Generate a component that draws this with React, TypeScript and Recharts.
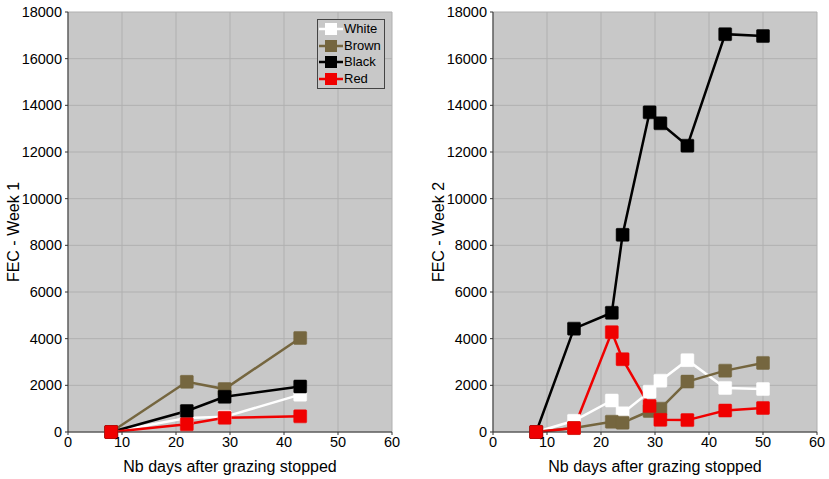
import { LineChart, Line, XAxis, YAxis, CartesianGrid } from 'recharts';

// Week 1 sampling days and FEC values
const daysW1 = [8, 22, 29, 43];
const whiteW1 = [0, 600, 650, 1600];
const brownW1 = [0, 2150, 1840, 4030];
const blackW1 = [0, 900, 1510, 1950];
const redW1 = [0, 330, 610, 670];

// Week 2 sampling days and FEC values
const daysW2 = [8, 15, 22, 24, 29, 31, 36, 43, 50];
const whiteW2 = [0, 480, 1350, 800, 1730, 2200, 3080, 1890, 1840];
const brownW2 = [0, 170, 440, 400, 900, 1000, 2160, 2630, 2960];
const blackW2 = [0, 4430, 5110, 8450, 13700, 13230, 12270, 17050, 16970];
const redW2 = [0, 170, 4280, 3120, 1110, 520, 510, 920, 1030];

const xTicks = [0, 10, 20, 30, 40, 50, 60];
const yTicks = [0, 2000, 4000, 6000, 8000, 10000, 12000, 14000, 16000, 18000];

const groups = [
  { key: 'white', name: 'White', color: '#ffffff' },
  { key: 'brown', name: 'Brown', color: '#75663f' },
  { key: 'black', name: 'Black', color: '#000000' },
  { key: 'red', name: 'Red', color: '#f00000' },
];

const font = '"Liberation Sans", Arial, Helvetica, sans-serif';

const buildRows = (days: number[], w: number[], br: number[], bl: number[], r: number[]) =>
  days.map((d, i) => ({ day: d, white: w[i], brown: br[i], black: bl[i], red: r[i] }));

const week1 = buildRows(daysW1, whiteW1, brownW1, blackW1, redW1);
const week2 = buildRows(daysW2, whiteW2, brownW2, blackW2, redW2);

const squareDot = (color: string) => (props: any) => {
  const { cx, cy, index } = props;
  if (cx == null || cy == null) return <g key={`e-${index}`} />;
  return (
    <rect
      key={`d-${index}`}
      x={cx - 6.5}
      y={cy - 6.5}
      width={13}
      height={13}
      rx={1}
      fill={color}
      stroke={color}
      strokeWidth={0.5}
    />
  );
};

const GroupLegend = () => (
  <div
    style={{
      position: 'absolute',
      left: 317,
      top: 19,
      border: '1px solid #444',
      background: '#c8c8c8',
      padding: '1px 3px 1px 1px',
      fontFamily: font,
      fontSize: 13,
      lineHeight: '16.5px',
    }}
  >
    {groups.map((g) => (
      <div key={g.key} style={{ display: 'flex', alignItems: 'center' }}>
        <svg width={24} height={14} style={{ marginRight: 1 }}>
          <line x1={0} y1={7} x2={24} y2={7} stroke={g.color} strokeWidth={2.5} />
          <rect x={6} y={1} width={12} height={12} fill={g.color} />
        </svg>
        <span>{g.name}</span>
      </div>
    ))}
  </div>
);

function Panel({ data, title, width, marginLeft, marginRight }: any) {
  return (
    <LineChart
      width={width}
      height={479}
      data={data}
      margin={{ top: 12, right: marginRight, bottom: 0, left: marginLeft }}
      style={{ fontFamily: font }}
    >
      <CartesianGrid
        stroke="#b0b0b0"
        strokeWidth={1}
        fill="#c8c8c8"
        fillOpacity={1}
        horizontalValues={yTicks}
        verticalValues={xTicks}
      />
      <XAxis
        dataKey="day"
        type="number"
        domain={[0, 60]}
        ticks={xTicks}
        height={47}
        tickSize={3}
        tickMargin={2}
        stroke="#333"
        tick={{ fill: '#000', fontSize: 14.5 }}
        label={{ value: 'Nb days after grazing stopped', position: 'insideBottom', offset: 7, fill: '#000', fontSize: 16 }}
      />
      <YAxis
        type="number"
        domain={[0, 18000]}
        ticks={yTicks}
        width={62}
        tickSize={3}
        tickMargin={3}
        stroke="#333"
        tick={{ fill: '#000', fontSize: 14.5 }}
        label={({ viewBox }: any) => {
          const x = viewBox.x + 7;
          const y = 232;
          return (
            <text
              x={x}
              y={y}
              transform={`rotate(-90 ${x} ${y})`}
              textAnchor="middle"
              dominantBaseline="central"
              fontSize={16}
              fill="#000"
            >
              {title}
            </text>
          );
        }}
      />
      {groups.map((g) => (
        <Line
          key={g.key}
          dataKey={g.key}
          name={g.name}
          type="linear"
          stroke={g.color}
          strokeWidth={2.5}
          dot={squareDot(g.color)}
          activeDot={false}
          isAnimationActive={false}
        />
      ))}
    </LineChart>
  );
}

export default function App() {
  return (
    <div
      style={{
        position: 'absolute',
        left: 0,
        top: 0,
        width: 829,
        height: 479,
        background: '#ffffff',
        display: 'flex',
        fontFamily: font,
      }}
    >
      <div style={{ position: 'relative', width: 414, height: 479 }}>
        <Panel data={week1} title="FEC - Week 1" width={414} marginLeft={6} marginRight={22} />
        <GroupLegend />
      </div>
      <Panel data={week2} title="FEC - Week 2" width={415} marginLeft={17} marginRight={12} />
    </div>
  );
}
